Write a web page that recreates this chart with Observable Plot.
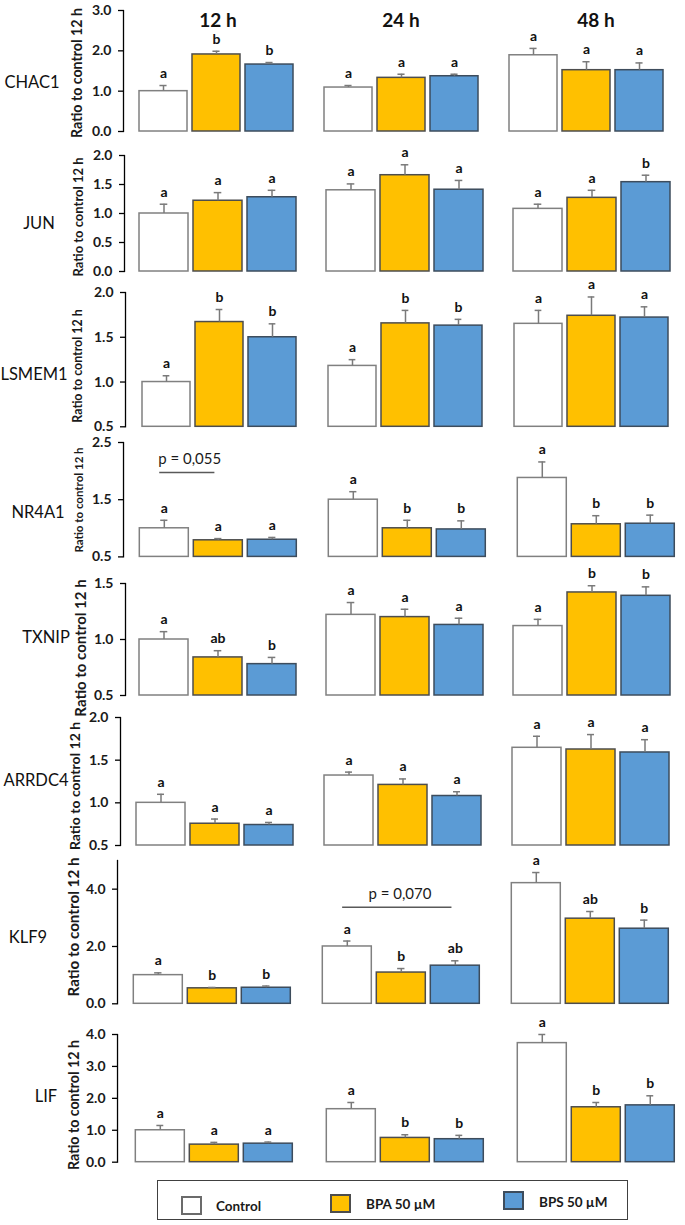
<!DOCTYPE html>
<html><head><meta charset="utf-8">
<script src="https://cdn.jsdelivr.net/npm/d3@7"></script>
<script src="https://cdn.jsdelivr.net/npm/@observablehq/plot@0.6"></script>
<style>
body{margin:0;background:#fff;font-family:Lato,"Open Sans",sans-serif;}
#root{position:relative;width:685px;height:1225px;overflow:hidden;background:#fff;}
.row{position:absolute;left:0;}
.gene{position:absolute;font-size:16.5px;color:#111;transform:translate(-50%,-50%);white-space:nowrap;}
.ylab{position:absolute;font-weight:bold;color:#1a1a1a;white-space:nowrap;transform:translate(-50%,-50%) rotate(-90deg);}
g[aria-label="y-axis tick label"]{font-size:14px;font-weight:bold;fill:#1a1a1a;}
g[aria-label="y-axis tick"]{stroke:#868686;stroke-width:1.3px;}
g[aria-label="frame"]{stroke:#868686;stroke-width:1.3px;}
#legend{position:absolute;left:157px;top:1180px;width:469px;height:38px;border:1.5px solid #404040;}
.sw{position:absolute;width:17px;height:15px;}
.lt{position:absolute;font-size:13.5px;font-weight:bold;color:#1a1a1a;transform:translateY(-50%);white-space:nowrap;}
</style></head><body><div id="root"></div>
<script>
const times = ["12 h", "24 h", "48 h"];
const treatments = ["Control", "BPA 50 µM", "BPS 50 µM"];
const genes = ["CHAC1", "JUN", "LSMEM1", "NR4A1", "TXNIP", "ARRDC4", "KLF9", "LIF"];

// values ordered: 12 h (Control, BPA, BPS), 24 h (...), 48 h (...)
const CHAC1_mean = [1.00, 1.91, 1.66, 1.09, 1.33, 1.37, 1.89, 1.52, 1.52];
const CHAC1_se   = [0.14, 0.08, 0.05, 0.05, 0.09, 0.05, 0.17, 0.21, 0.18];
const CHAC1_sig  = ["a","b","b","a","a","a","a","a","a"];
const CHAC1_domain = [0, 3];
const CHAC1_ticks  = [0, 1, 2, 3];

const JUN_mean = [1.00, 1.22, 1.28, 1.40, 1.66, 1.41, 1.08, 1.27, 1.54];
const JUN_se   = [0.16, 0.14, 0.12, 0.11, 0.18, 0.16, 0.08, 0.13, 0.12];
const JUN_sig  = ["a","a","a","a","a","a","a","a","b"];
const JUN_domain = [0, 2];
const JUN_ticks  = [0, 0.5, 1, 1.5, 2];

const LSMEM1_mean = [1.00, 1.67, 1.50, 1.18, 1.655, 1.63, 1.65, 1.74, 1.72];
const LSMEM1_se   = [0.07, 0.14, 0.15, 0.07, 0.145, 0.07, 0.15, 0.21, 0.12];
const LSMEM1_sig  = ["a","b","b","a","b","b","a","a","a"];
const LSMEM1_domain = [0.5, 2];
const LSMEM1_ticks  = [0.5, 1, 1.5, 2];

const NR4A1_mean = [1.00, 0.79, 0.80, 1.50, 1.00, 0.98, 1.88, 1.07, 1.08];
const NR4A1_se   = [0.14, 0.03, 0.04, 0.14, 0.14, 0.15, 0.28, 0.15, 0.15];
const NR4A1_sig  = ["a","a","a","a","b","b","a","b","b"];
const NR4A1_domain = [0.5, 2.5];
const NR4A1_ticks  = [0.5, 1.5, 2.5];

const TXNIP_mean = [1.00, 0.84, 0.78, 1.22, 1.20, 1.13, 1.12, 1.42, 1.39];
const TXNIP_se   = [0.07, 0.06, 0.06, 0.11, 0.07, 0.06, 0.06, 0.06, 0.08];
const TXNIP_sig  = ["a","ab","b","a","a","a","a","b","b"];
const TXNIP_domain = [0.5, 1.5];
const TXNIP_ticks  = [0.5, 1, 1.5];

const ARRDC4_mean = [1.00, 0.755, 0.74, 1.32, 1.21, 1.08, 1.645, 1.625, 1.59];
const ARRDC4_se   = [0.10, 0.055, 0.03, 0.04, 0.07, 0.05, 0.135, 0.175, 0.15];
const ARRDC4_sig  = ["a","a","a","a","a","a","a","a","a"];
const ARRDC4_domain = [0.5, 2];
const ARRDC4_ticks  = [0.5, 1, 1.5, 2];

const KLF9_mean = [1.00, 0.54, 0.56, 2.00, 1.09, 1.33, 4.21, 2.97, 2.62];
const KLF9_se   = [0.08, 0.03, 0.06, 0.19, 0.14, 0.17, 0.37, 0.25, 0.30];
const KLF9_sig  = ["a","b","b","a","b","ab","a","ab","b"];
const KLF9_domain = [0, 5];
const KLF9_ticks  = [0, 2, 4];

const LIF_mean = [1.00, 0.55, 0.58, 1.66, 0.76, 0.72, 3.73, 1.72, 1.78];
const LIF_se   = [0.15, 0.07, 0.05, 0.21, 0.10, 0.12, 0.27, 0.15, 0.30];
const LIF_sig  = ["a","a","a","a","b","b","a","b","b"];
const LIF_domain = [0, 4];
const LIF_ticks  = [0, 1, 2, 3, 4];

// trend annotations
const note_gene  = ["NR4A1", "KLF9"];
const note_time  = ["12 h", "24 h"];
const note_from  = ["Control", "Control"];
const note_to    = ["BPA 50 µM", "BPS 50 µM"];
const note_level = [1.975, 3.37];
const note_text  = ["p = 0,055", "p = 0,070"];

const geneData = {
  CHAC1: {mean: CHAC1_mean, se: CHAC1_se, sig: CHAC1_sig, domain: CHAC1_domain, ticks: CHAC1_ticks},
  JUN: {mean: JUN_mean, se: JUN_se, sig: JUN_sig, domain: JUN_domain, ticks: JUN_ticks},
  LSMEM1: {mean: LSMEM1_mean, se: LSMEM1_se, sig: LSMEM1_sig, domain: LSMEM1_domain, ticks: LSMEM1_ticks},
  NR4A1: {mean: NR4A1_mean, se: NR4A1_se, sig: NR4A1_sig, domain: NR4A1_domain, ticks: NR4A1_ticks},
  TXNIP: {mean: TXNIP_mean, se: TXNIP_se, sig: TXNIP_sig, domain: TXNIP_domain, ticks: TXNIP_ticks},
  ARRDC4: {mean: ARRDC4_mean, se: ARRDC4_se, sig: ARRDC4_sig, domain: ARRDC4_domain, ticks: ARRDC4_ticks},
  KLF9: {mean: KLF9_mean, se: KLF9_se, sig: KLF9_sig, domain: KLF9_domain, ticks: KLF9_ticks},
  LIF: {mean: LIF_mean, se: LIF_se, sig: LIF_sig, domain: LIF_domain, ticks: LIF_ticks}
};

// page layout (pixels)
const layout = [
  {top: 10,    bottom: 131,    axisX: 122,   barStart: 137,   barEnd: 664,   gap: 29,   geneX: 32, geneY: 82,   labX: 76, labY: 73,   labSize: 14.2},
  {top: 154.7, bottom: 270.7,  axisX: 124,   barStart: 139,   barEnd: 671,   gap: 29,   geneX: 39, geneY: 222.7,labX: 78, labY: 217,  labSize: 13},
  {top: 291.7, bottom: 426,    axisX: 124,   barStart: 140,   barEnd: 671,   gap: 29,   geneX: 34, geneY: 374,  labX: 77, labY: 366,  labSize: 12.4},
  {top: 442.3, bottom: 556.7,  axisX: 122.7, barStart: 138,   barEnd: 676,   gap: 30,   geneX: 38, geneY: 511.7,labX: 78, labY: 500,  labSize: 11.5},
  {top: 583,   bottom: 695,    axisX: 124,   barStart: 138,   barEnd: 671,   gap: 29.5, geneX: 46, geneY: 636.7,labX: 80, labY: 648,  labSize: 15},
  {top: 717,   bottom: 845,    axisX: 119,   barStart: 133.7, barEnd: 671,   gap: 29,   geneX: 36, geneY: 780,  labX: 74, labY: 786,  labSize: 14},
  {top: 860,   bottom: 1003.3, axisX: 116.7, barStart: 132,   barEnd: 669.6, gap: 30.5, geneX: 28, geneY: 937,  labX: 73, labY: 927,  labSize: 15.2},
  {top: 1034,  bottom: 1161.7, axisX: 116.7, barStart: 133.5, barEnd: 676,   gap: 31,   geneX: 46, geneY: 1096, labX: 73, labY: 1105, labSize: 14.2}
];
const titleDx = [2, 0, 10];

const fills = ["#ffffff", "#FFC000", "#5B9BD5"];
const strokes = ["#808080", "#4d4d4d", "#3d4c5c"];
const root = document.getElementById("root");

genes.forEach((g, gi) => {
  const d = geneData[g];
  const cfg = layout[gi];
  const rows = [];
  times.forEach((t, i) => treatments.forEach((tr, j) => {
    const k = i * 3 + j;
    rows.push({time: t, treatment: tr, mean: d.mean[k], top: d.mean[k] + d.se[k], sig: d.sig[k]});
  }));
  const notes = note_gene.map((ng, i) => ({gene: ng, time: note_time[i], from: note_from[i], to: note_to[i], level: note_level[i], text: note_text[i]})).filter(n => n.gene === g);

  const mt = 22, mb = 6;
  const h = cfg.bottom - cfg.top + mt + mb;
  const iL = cfg.barStart - cfg.axisX;
  const iR = cfg.gap - iL;
  const groupW = (cfg.barEnd - cfg.barStart - 2 * cfg.gap) / 3;
  const mr = 685 - (cfg.barEnd + iR);
  const pIn = 0.09;
  const step = groupW / (3 - pIn);
  const bw = step * (1 - pIn);
  const y0 = d.domain[0];

  const marks = [];
  treatments.forEach((tr, j) => {
    marks.push(Plot.barY(rows.filter(r => r.treatment === tr), {
      fx: "time", x: "treatment", y1: y0, y2: "mean",
      fill: fills[j], stroke: strokes[j], strokeWidth: 1.5
    }));
  });
  marks.push(Plot.ruleX(rows, {fx: "time", x: "treatment", y1: "mean", y2: "top", stroke: "#7a7a7a", strokeWidth: 1.5}));
  marks.push(Plot.tickY(rows, {fx: "time", x: "treatment", y: "top", stroke: "#7a7a7a", strokeWidth: 1.5, insetLeft: bw / 2 - 4, insetRight: bw / 2 - 4}));
  marks.push(Plot.text(rows, {fx: "time", x: "treatment", y: "top", text: "sig", dy: -12, fontSize: 14, fontWeight: "bold", fill: "#111"}));
  notes.forEach(n => {
    const span = treatments.indexOf(n.to) - treatments.indexOf(n.from);
    marks.push(Plot.ruleY([n], {fx: "time", x1: "from", x2: "to", y: "level", insetLeft: bw / 2 - 5, insetRight: bw / 2 + 3, stroke: "#595959", strokeWidth: 1.5}));
    marks.push(Plot.text([n], {fx: "time", x: "from", y: "level", text: "text", dy: -13, dx: span * step / 2 - 2, fontSize: 15, fill: "#1a1a1a"}));
  });
  if (gi === 0) {
    times.forEach((t, i) => {
      marks.push(Plot.text([t], {fx: v => v, frameAnchor: "top", text: v => v, dy: 3, dx: titleDx[i], fontSize: 19, fontWeight: "bold", fill: "#111"}));
    });
  }

  const chart = Plot.plot({
    width: 685, height: h,
    marginLeft: cfg.axisX, marginRight: mr, marginTop: mt, marginBottom: mb,
    style: {fontFamily: "Lato, sans-serif", overflow: "visible", background: "none"},
    fx: {domain: times, padding: 0, axis: null},
    x: {domain: treatments, paddingInner: pIn, paddingOuter: 0, insetLeft: iL, insetRight: iR, axis: null},
    y: {domain: d.domain, ticks: d.ticks, tickFormat: d3.format(".1f"), tickSize: 5, tickPadding: 7, line: true, label: null},
    marks
  });
  const wrap = document.createElement("div");
  wrap.className = "row";
  wrap.style.top = (cfg.top - mt) + "px";
  wrap.appendChild(chart);
  root.appendChild(wrap);

  const lab = document.createElement("div");
  lab.className = "ylab";
  lab.style.left = cfg.labX + "px";
  lab.style.top = cfg.labY + "px";
  lab.style.fontSize = cfg.labSize + "px";
  lab.textContent = "Ratio to control 12 h";
  root.appendChild(lab);

  const gl = document.createElement("div");
  gl.className = "gene";
  gl.style.left = cfg.geneX + "px";
  gl.style.top = cfg.geneY + "px";
  gl.textContent = g;
  root.appendChild(gl);
});

// legend
const legend = document.createElement("div");
legend.id = "legend";
root.appendChild(legend);
const legendItems = [
  {sw: [23, 15], tx: [58, 25]},
  {sw: [172, 13], tx: [208, 23]},
  {sw: [345, 10], tx: [381, 21]}
];
treatments.forEach((tr, j) => {
  const s = document.createElement("div");
  s.className = "sw";
  s.style.left = legendItems[j].sw[0] + "px";
  s.style.top = legendItems[j].sw[1] + "px";
  s.style.background = fills[j];
  s.style.border = "2px solid " + (j === 0 ? "#6b6b6b" : strokes[j]);
  legend.appendChild(s);
  const t = document.createElement("div");
  t.className = "lt";
  t.style.left = legendItems[j].tx[0] + "px";
  t.style.top = legendItems[j].tx[1] + "px";
  t.textContent = tr;
  legend.appendChild(t);
});
</script>
</body></html>
